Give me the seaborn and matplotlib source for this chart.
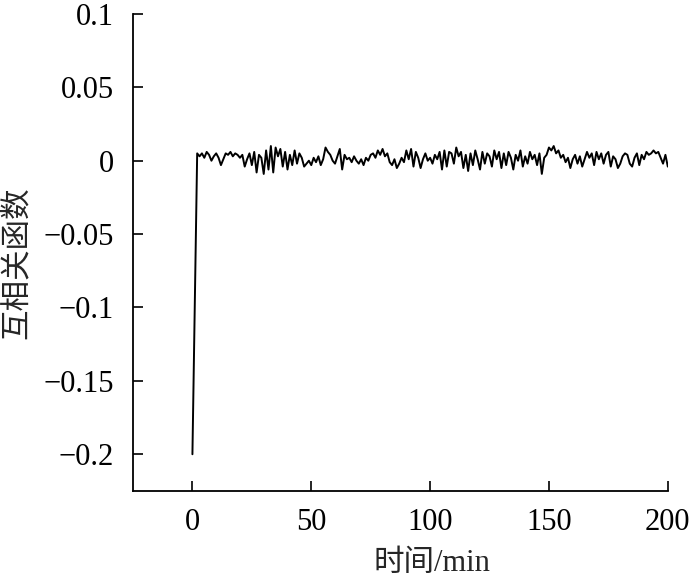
import matplotlib
matplotlib.use('Agg')
import matplotlib.pyplot as plt
import seaborn as sns
import pandas as pd

# time axis (min) and cross-correlation values
time_min = [0] + list(range(2, 201))
xcorr = [
    -0.200,
    0.005, 0.003, 0.005, 0.002, 0.006, 0.004, 0.000, 0.003, 0.005, 0.002,
    -0.003, 0.001, 0.005, 0.004, 0.006, 0.003, 0.005, 0.004, 0.002, 0.004,
    -0.004, 0.001, 0.005, -0.003, 0.006, -0.008, 0.004, 0.002, -0.009, 0.007,
    -0.006, 0.010, -0.008, 0.009, 0.003, 0.008, -0.004, 0.006, -0.006, 0.004,
    -0.003, 0.007, -0.002, 0.005, 0.002, -0.004, -0.002, 0.000, -0.003, 0.002,
    -0.001, 0.003, -0.003, 0.001, 0.009, 0.006, 0.004, 0.000, -0.002, 0.003,
    0.008, -0.006, 0.004, 0.001, 0.002, -0.001, 0.003, 0.000, -0.002, 0.001,
    -0.003, 0.002, 0.000, 0.004, 0.005, 0.002, 0.007, 0.004, 0.008, 0.003,
    0.005, -0.001, -0.003, 0.001, -0.005, -0.002, 0.002, -0.001, 0.007, 0.001,
    0.008, -0.004, 0.006, 0.002, -0.005, 0.001, 0.005, 0.000, 0.002, -0.002,
    0.004, 0.001, 0.006, -0.006, 0.007, -0.004, 0.006, 0.005, -0.002, 0.009,
    0.003, 0.006, -0.005, 0.004, -0.007, 0.005, -0.003, 0.007, 0.001, -0.006,
    0.006, -0.002, 0.005, 0.003, -0.004, 0.007, 0.001, 0.006, -0.005, 0.005,
    -0.003, 0.006, 0.002, -0.006, 0.004, 0.000, 0.007, -0.004, 0.003, -0.002,
    0.006, 0.001, 0.004, -0.003, 0.005, -0.009, 0.002, 0.004, 0.009, 0.007,
    0.010, 0.005, 0.007, 0.002, 0.004, -0.001, 0.002, -0.005, 0.001, 0.004,
    -0.002, 0.003, -0.004, 0.001, 0.006, 0.002, 0.005, -0.003, 0.006, 0.001,
    0.005, -0.002, 0.004, 0.006, -0.004, 0.003, 0.001, -0.005, -0.002, 0.003,
    0.005, 0.004, -0.002, -0.004, 0.002, 0.005, -0.003, 0.004, 0.001, 0.006,
    0.004, 0.005, 0.007, 0.005, 0.006, 0.002, -0.002, 0.004, -0.004,
]

x_ticks = [0, 50, 100, 150, 200]
y_ticks = [-0.2, -0.15, -0.1, -0.05, 0, 0.05, 0.1]
y_labels = ['\u22120.2', '\u22120.15', '\u22120.1', '\u22120.05', '0', '0.05', '0.1']

sns.set_style('ticks')
plt.rcParams['font.family'] = ['Liberation Serif', 'Noto Sans CJK SC']
plt.rcParams['axes.unicode_minus'] = True

df = pd.DataFrame({'time': time_min, 'xcorr': xcorr})

fig = plt.figure(figsize=(7, 5.81), dpi=100)
ax = fig.add_axes([0.19, 0.155, 0.764, 0.821])
sns.lineplot(data=df, x='time', y='xcorr', color='black', linewidth=1.4, ax=ax)

ax.set_xlim(-25, 200)
ax.set_ylim(-0.225, 0.1)
ax.set_xticks(x_ticks)
ax.set_xticklabels([str(t) for t in x_ticks])
ax.set_yticks(y_ticks)
ax.set_yticklabels(y_labels)
ax.tick_params(direction='in', length=7, width=1.2, labelsize=22, colors='black')
ax.tick_params(axis='y', pad=14)
ax.tick_params(axis='x', pad=12)
for side in ['top', 'right']:
    ax.spines[side].set_visible(False)
for side in ['left', 'bottom']:
    ax.spines[side].set_linewidth(1.3)
    ax.spines[side].set_color('black')

# labels sit centred on the data range, not the axes box
ax.set_xlabel('时间/min', fontsize=22)
ax.set_ylabel('互相关函数', fontsize=22)
ax.xaxis.set_label_coords(0.559, -0.121)
ax.yaxis.set_label_coords(-0.19, 0.478)

fig.savefig('out.png', dpi=100)
